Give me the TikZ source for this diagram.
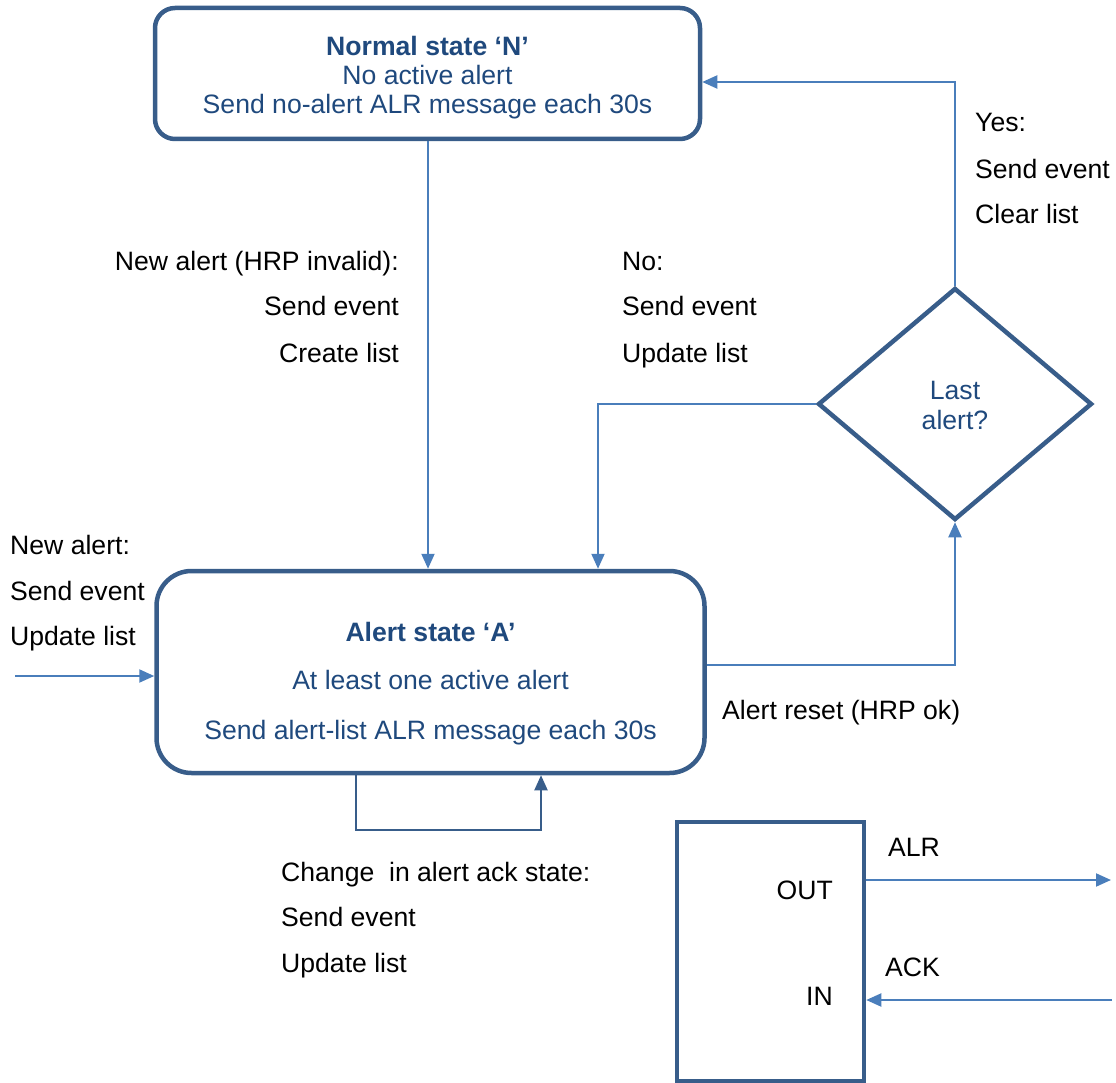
\documentclass[tikz,border=0pt]{standalone}
\usepackage{fontspec}
\setmainfont{Liberation Sans}
\usetikzlibrary{arrows.meta,shapes.geometric,calc}
\definecolor{outline}{HTML}{385D8A}
\definecolor{linkblue}{HTML}{4A7EBB}
\definecolor{navy}{HTML}{1F497D}

\begin{document}
\begin{tikzpicture}[x=1pt,y=-1pt,
  txt/.style={font=\fontsize{26.6}{30}\selectfont, inner sep=0pt},
  boxtxt/.style={txt, text=navy},
  statenormal/.style={draw=outline, line width=4.5pt, rounded corners=20pt, inner sep=0pt},
  statealert/.style={draw=outline, line width=4.5pt, rounded corners=35pt, inner sep=0pt},
  decision/.style={diamond, draw=outline, line width=4.5pt, inner sep=0pt},
  block/.style={draw=outline, line width=4.5pt, inner sep=0pt},
  link/.style={draw=linkblue, line width=2pt, -{Triangle[length=15pt,width=13pt]}},
  selflink/.style={draw=outline, line width=2pt, -{Triangle[length=15pt,width=13pt]}}
]
\useasboundingbox (0,0) rectangle (1116,1083);

% state boxes
\node[statenormal, minimum width=545pt, minimum height=131pt] (N) at (427.5,73.5) {};
\node[boxtxt, anchor=base, font=\fontsize{26.6}{30}\selectfont\bfseries] (n1) at (427.5,56) {Normal state ‘N’};
\node[boxtxt, anchor=base] (n2) at (427.5,85) {No active alert};
\node[boxtxt, anchor=base] (n3) at (427.5,114) {Send no-alert ALR message each 30s};

\node[statealert, minimum width=548pt, minimum height=202pt] (A) at (430.5,672) {};
\node[boxtxt, anchor=base, font=\fontsize{26.6}{30}\selectfont\bfseries] (a1) at (430.5,641) {Alert state ‘A’};
\node[boxtxt, anchor=base] (a2) at (430.5,689) {At least one active alert};
\node[boxtxt, anchor=base] (a3) at (430.5,739) {Send alert-list ALR message each 30s};

% decision
\node[decision, minimum width=274pt, minimum height=232pt] (D) at (955,404) {};
\node[boxtxt, anchor=base] (d1) at (955,399) {Last};
\node[boxtxt, anchor=base] (d2) at (955,429) {alert?};

% interface block
\node[block, minimum width=187pt, minimum height=259pt] (M) at (770.5,951.5) {};
\node[txt, anchor=base east] (out) at (833,899) {OUT};
\node[txt, anchor=base east] (in) at (833,1005) {IN};
\node[txt, anchor=base west] (alr) at (888,856) {ALR};
\node[txt, anchor=base west] (ack) at (885,976) {ACK};

% helper coordinates
\coordinate (noX) at (598,0);
\coordinate (yesY) at (0,82);
\coordinate (resetY) at (0,665);
\coordinate (lin) at (15,676);
\coordinate (loopL) at (356,0);
\coordinate (loopR) at (541,0);
\coordinate (outY) at (0,880);
\coordinate (inY) at (0,1000);
\coordinate (outEnd) at (1111,880);
\coordinate (inStart) at (1112,1000);

% connectors
\draw[link] (N.south -| 428,0) -- (A.north -| 428,0);
\draw[link] (D.west) -| (A.north -| noX);
\draw[link] (A.east |- resetY) -| (D.south);
\draw[link] (D.north) |- (N.east |- yesY);
\draw[link] (lin) -- (lin -| A.west);
\draw[selflink] (A.south -| loopL) -- ++(0,55) -| (A.south -| loopR);
\draw[link] (M.east |- outY) -- (outEnd);
\draw[link] (inStart) -- (M.east |- inY);

% transition labels
\node[txt, anchor=base east] (t1) at (399,271) {New alert (HRP invalid):};
\node[txt, anchor=base east] (t2) at (399,316) {Send event};
\node[txt, anchor=base east] (t3) at (399,362) {Create list};

\node[txt, anchor=base west] (u1) at (622,271) {No:};
\node[txt, anchor=base west] (u2) at (622,316) {Send event};
\node[txt, anchor=base west] (u3) at (622,362) {Update list};

\node[txt, anchor=base west] (y1) at (975,132) {Yes:};
\node[txt, anchor=base west] (y2) at (975,179) {Send event};
\node[txt, anchor=base west] (y3) at (975,224) {Clear list};

\node[txt, anchor=base west] (w1) at (10,554) {New alert:};
\node[txt, anchor=base west] (w2) at (10,600) {Send event};
\node[txt, anchor=base west] (w3) at (10,645) {Update list};

\node[txt, anchor=base west] (r1) at (722,719) {Alert reset (HRP ok)};

\node[txt, anchor=base west] (c1) at (281,881) {Change\ \ in alert ack state:};
\node[txt, anchor=base west] (c2) at (281,926) {Send event};
\node[txt, anchor=base west] (c3) at (281,972) {Update list};
\end{tikzpicture}
\end{document}
